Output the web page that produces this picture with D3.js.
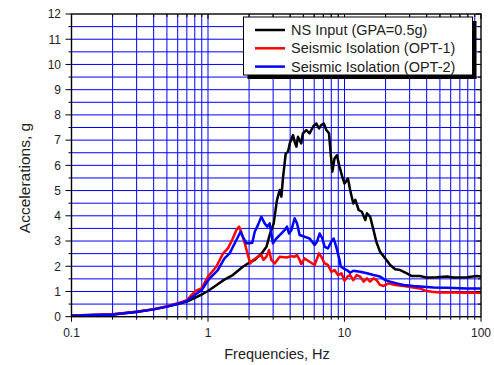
<!DOCTYPE html>
<html>
<head>
<meta charset="utf-8">
<style>
  body { margin: 0; background: #fff; }
  svg text { font-family: Arial, "Liberation Sans", sans-serif; fill: #222; }
  .grid line { stroke: #0000ff; stroke-width: 1px; }
  .frame { fill: none; stroke: #000; stroke-width: 1.4px; }
  .curve { fill: none; stroke-width: 2.5px; stroke-linejoin: round; }
</style>
</head>
<body>
<div id="chart"></div>
<script src="https://d3js.org/d3.v7.min.js"></script>
<script>
// ---- data: [frequency Hz, acceleration g] ----
var nsInput = [
  [0.1,0.05],[0.2,0.09],[0.3,0.2],[0.4,0.29],[0.5,0.4],[0.6,0.5],[0.7,0.6],[0.8,0.75],
  [0.9,0.88],[1.0,1.02],[1.15,1.25],[1.3,1.45],[1.52,1.65],[1.8,1.98],[2.0,2.14],[2.2,2.25],
  [2.46,2.5],[2.68,2.77],[2.83,3.24],[3.03,3.7],[3.2,4.62],[3.35,5.02],[3.45,4.76],[3.54,5.48],
  [3.71,6.47],[3.86,6.54],[3.97,6.87],[4.2,7.2],[4.31,6.94],[4.44,6.74],[4.56,7.13],[4.69,7.0],
  [4.82,6.87],[4.96,7.27],[5.25,7.4],[5.55,7.27],[5.88,7.53],[6.22,7.66],[6.5,7.46],[6.76,7.6],
  [7.05,7.66],[7.36,7.4],[7.7,7.27],[7.92,6.47],[8.15,5.75],[8.45,6.27],[8.8,6.4],[9.2,5.94],
  [9.63,5.55],[10.0,5.28],[10.6,5.48],[11.0,5.02],[11.6,4.49],[12.0,4.63],[12.7,4.23],[13.4,4.16],
  [14.2,3.83],[14.6,4.1],[15.4,3.97],[16.3,3.44],[17.1,2.97],[18.2,2.58],[19.9,2.31],[21.6,2.05],
  [23.5,1.88],[25.6,1.85],[28.6,1.72],[31.1,1.61],[35.8,1.61],[40,1.55],[47.4,1.56],[56.2,1.59],
  [63,1.55],[78.8,1.56],[93,1.61],[100,1.59]
];
var opt1 = [
  [0.1,0.05],[0.2,0.1],[0.3,0.2],[0.4,0.3],[0.5,0.42],[0.6,0.53],[0.7,0.66],[0.8,1.0],
  [0.9,1.13],[1.0,1.59],[1.15,1.98],[1.29,2.51],[1.4,2.71],[1.52,3.1],[1.61,3.43],[1.69,3.57],
  [1.75,3.37],[1.86,2.91],[1.96,2.44],[2.04,2.11],[2.14,2.25],[2.32,2.38],[2.46,2.44],[2.55,2.25],
  [2.68,2.38],[2.8,2.64],[2.91,2.25],[3.08,2.11],[3.35,2.38],[3.75,2.35],[4.08,2.4],[4.31,2.38],
  [4.49,2.44],[4.69,2.25],[4.82,2.09],[5.1,2.31],[5.55,2.18],[6.04,2.05],[6.5,2.51],[6.76,2.38],
  [7.16,2.11],[7.56,2.05],[8.0,1.78],[8.45,1.85],[8.95,1.65],[9.5,1.72],[10.0,1.42],[10.5,1.59],
  [11.0,1.65],[11.6,1.45],[12.3,1.65],[13.0,1.59],[13.8,1.39],[14.6,1.52],[15.4,1.39],[16.3,1.52],
  [17.2,1.45],[18.2,1.26],[19.3,1.22],[21.0,1.32],[23.5,1.26],[27.1,1.22],[32,1.16],[35.8,1.12],
  [39,1.03],[43.7,0.99],[50.2,0.96],[62.7,0.96],[78.8,0.95],[100,0.95]
];
var opt2 = [
  [0.1,0.04],[0.2,0.09],[0.3,0.19],[0.4,0.29],[0.5,0.4],[0.6,0.51],[0.7,0.62],[0.8,0.86],
  [0.9,1.06],[1.0,1.43],[1.03,1.52],[1.18,1.85],[1.32,2.31],[1.44,2.51],[1.57,2.91],[1.66,3.17],
  [1.73,3.37],[1.8,3.17],[1.91,2.91],[2.0,2.91],[2.11,2.93],[2.2,3.37],[2.32,3.63],[2.46,3.96],
  [2.6,3.7],[2.72,3.57],[2.83,3.7],[2.99,2.91],[3.17,3.1],[3.45,3.3],[3.64,3.43],[3.79,3.57],
  [3.92,3.3],[4.08,3.43],[4.31,3.9],[4.49,3.7],[4.69,3.24],[5.1,3.17],[5.55,3.1],[6.04,2.84],
  [6.28,2.97],[6.58,3.3],[6.88,3.1],[7.16,2.77],[7.56,2.71],[8.0,2.97],[8.33,3.1],[8.7,2.77],
  [9.2,2.25],[9.4,1.98],[9.8,1.92],[10.4,1.85],[11.0,1.74],[11.6,1.82],[13.0,1.78],[14.6,1.72],
  [16.3,1.65],[18.2,1.59],[19.9,1.45],[21.6,1.39],[24.2,1.32],[27.1,1.26],[32,1.22],[37.9,1.19],
  [44.9,1.16],[56,1.15],[78.8,1.12],[100,1.12]
];
var seriesNames = ["NS Input (GPA=0.5g)", "Seismic Isolation (OPT-1)", "Seismic Isolation (OPT-2)"];
var seriesColors = ["#000000", "#ff0000", "#0000ff"];
var yTicks = d3.range(0, 13, 1);
var xTickLabels = [0.1, 1, 10, 100];

(function () {
  // ---- layout ----
  var W = 494, H = 365;
  var pl = 71.5, pt = 14, pr = 481, pb = 316.7;

  var svg = d3.select("#chart").append("svg")
      .attr("width", W)
      .attr("height", H);

  var x = d3.scaleLog().domain([0.1, 100]).range([pl, pr]);
  var y = d3.scaleLinear().domain([0, 12]).range([pb, pt]);

  // minor log ticks 0.1 .. 100
  var logTicks = [];
  [0.1, 1, 10].forEach(function (d) {
    for (var k = 1; k < 10; k++) logTicks.push(+(d * k).toPrecision(3));
  });
  logTicks.push(100);
  var halfTicks = d3.range(0, 12.5, 0.5);
  var isDecade = function (d) { return xTickLabels.indexOf(d) >= 0; };

  // grid
  var grid = svg.append("g").attr("class", "grid");
  grid.selectAll("line.v")
    .data(logTicks.filter(function (d) { return d > 0.1 && d < 100; }))
    .enter().append("line")
      .attr("class", "v")
      .attr("x1", function (d) { return x(d); })
      .attr("x2", function (d) { return x(d); })
      .attr("y1", pt).attr("y2", pb);
  grid.selectAll("line.h")
    .data(halfTicks.filter(function (d) { return d > 0 && d < 12; }))
    .enter().append("line")
      .attr("class", "h")
      .attr("y1", function (d) { return y(d); })
      .attr("y2", function (d) { return y(d); })
      .attr("x1", pl).attr("x2", pr);

  // curves
  var line = d3.line()
    .x(function (d) { return x(d[0]); })
    .y(function (d) { return y(d[1]); });

  [nsInput, opt1, opt2].forEach(function (s, i) {
    svg.append("path")
      .attr("class", "curve")
      .attr("d", line(s))
      .style("stroke", seriesColors[i]);
  });

  // frame
  svg.append("rect")
    .attr("class", "frame")
    .attr("x", pl).attr("y", pt)
    .attr("width", pr - pl).attr("height", pb - pt);

  // x ticks: bottom outward, top inward
  svg.selectAll("line.xt")
    .data(logTicks)
    .enter().append("line")
      .attr("class", "xt")
      .attr("x1", function (d) { return x(d); })
      .attr("x2", function (d) { return x(d); })
      .attr("y1", pb)
      .attr("y2", function (d) { return pb + (isDecade(d) ? 5 : 3); })
      .style("stroke", "#000").style("stroke-width", 1);
  svg.selectAll("line.xtt")
    .data(logTicks)
    .enter().append("line")
      .attr("class", "xtt")
      .attr("x1", function (d) { return x(d); })
      .attr("x2", function (d) { return x(d); })
      .attr("y1", pt)
      .attr("y2", function (d) { return pt + (isDecade(d) ? 5 : 3); })
      .style("stroke", "#000").style("stroke-width", 1);

  svg.selectAll("text.xl")
    .data(xTickLabels)
    .enter().append("text")
      .attr("class", "xl")
      .attr("x", function (d) { return x(d); })
      .attr("y", 337)
      .attr("text-anchor", "middle")
      .style("font-size", "12px")
      .text(function (d) { return d; });

  // y ticks: left outward, right inward
  svg.selectAll("line.yt")
    .data(halfTicks)
    .enter().append("line")
      .attr("class", "yt")
      .attr("y1", function (d) { return y(d); })
      .attr("y2", function (d) { return y(d); })
      .attr("x1", function (d) { return pl - (d % 1 === 0 ? 6 : 3); })
      .attr("x2", pl)
      .style("stroke", "#000").style("stroke-width", 1);
  svg.selectAll("line.ytr")
    .data(halfTicks)
    .enter().append("line")
      .attr("class", "ytr")
      .attr("y1", function (d) { return y(d); })
      .attr("y2", function (d) { return y(d); })
      .attr("x1", function (d) { return pr - (d % 1 === 0 ? 5 : 3); })
      .attr("x2", pr)
      .style("stroke", "#000").style("stroke-width", 1);

  svg.selectAll("text.yl")
    .data(yTicks)
    .enter().append("text")
      .attr("class", "yl")
      .attr("x", 61)
      .attr("y", function (d) { return y(d) + 4.3; })
      .attr("text-anchor", "end")
      .style("font-size", "12px")
      .text(function (d) { return d; });

  // axis titles
  svg.append("text")
    .attr("x", 277).attr("y", 359)
    .attr("text-anchor", "middle")
    .style("font-size", "14.5px")
    .text("Frequencies, Hz");

  svg.append("text")
    .attr("transform", "translate(30,178) rotate(-90)")
    .attr("text-anchor", "middle")
    .style("font-size", "15.5px")
    .text("Accelerations, g");

  // legend with drop shadow
  var lg = { x: 243.5, y: 17, w: 229, h: 58 };
  svg.append("rect")
    .attr("x", lg.x + 4).attr("y", lg.y + 4)
    .attr("width", lg.w).attr("height", lg.h)
    .style("fill", "#000");
  svg.append("rect")
    .attr("x", lg.x).attr("y", lg.y)
    .attr("width", lg.w).attr("height", lg.h)
    .style("fill", "#fff").style("stroke", "#000").style("stroke-width", 1);

  var legend = svg.selectAll("g.legend")
    .data(seriesNames)
    .enter().append("g")
      .attr("class", "legend")
      .attr("transform", function (d, i) { return "translate(0," + (30 + i * 18.3) + ")"; });
  legend.append("line")
    .attr("x1", 255).attr("x2", 285)
    .attr("y1", 0).attr("y2", 0)
    .style("stroke", function (d, i) { return seriesColors[i]; })
    .style("stroke-width", 2.5);
  legend.append("text")
    .attr("x", 291).attr("y", 5)
    .style("font-size", "14.5px")
    .text(function (d) { return d; });
})();
</script>
</body>
</html>
